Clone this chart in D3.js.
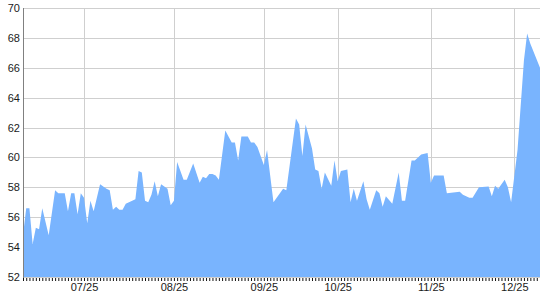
<!DOCTYPE html>
<html>
<head>
<meta charset="utf-8">
<script src="https://cdn.jsdelivr.net/npm/d3@7"></script>
<style>
    body { margin: 0; background: #fff; }
    #chart text { font-family: "Liberation Sans", Arial, sans-serif; font-size: 11px; fill: #1a1a1a; }
</style>
</head>
<body>
<div id="chart"></div>
<script>
// data (index = trading-day position on the axis)
const dayIndex = [0, 1, 2, 3, 4, 5, 6, 8, 10, 11, 13, 14, 15, 16, 17, 18, 19, 20, 21, 22, 24, 26, 27, 28, 29, 30, 31, 32,
    34, 35, 36, 37, 38, 39, 40, 41, 42, 43, 45, 46, 47, 48, 50, 51, 53, 55, 56, 57, 58, 59, 60, 61, 63, 65, 66, 67, 68,
    70, 71, 72, 73, 75, 76, 78, 81, 82, 85, 86, 87, 88, 90, 91, 92, 93, 94, 96, 97, 98, 99, 101, 102, 103, 104, 106,
    107, 108, 110, 111, 112, 113, 115, 117, 118, 119, 121, 122, 124, 126, 127, 128, 131, 132, 136, 137, 139, 140, 142,
    145, 146, 147, 148, 150, 151, 152, 154, 156, 157, 158, 161];
const price = [54.8, 56.6, 56.6, 54.2, 55.3, 55.2, 56.6, 54.8, 57.8, 57.6, 57.6, 56.4, 57.6, 57.6, 56.2, 57.6, 57.3,
    55.6, 57.1, 56.4, 58.2, 57.9, 57.8, 56.5, 56.7, 56.5, 56.5, 56.9,
    57.1, 57.2, 59.1, 59.0, 57.1, 57.0, 57.5, 58.4, 57.4, 58.2, 57.9, 56.8, 57.1, 59.7, 58.5, 58.5, 59.6, 58.3, 58.7,
    58.6, 58.9, 58.9, 58.8, 58.5, 61.8, 61.0, 61.0, 59.8, 61.4,
    61.4, 61.0, 61.0, 60.7, 59.5, 60.5, 57.0, 57.9, 57.8, 62.6, 62.2, 60.1, 62.2, 60.6, 59.2, 59.1, 57.9, 59.0, 58.1,
    59.8, 58.4, 59.1, 59.2, 57.0, 57.9, 57.1, 58.4,
    57.2, 56.5, 57.8, 57.6, 56.7, 57.4, 56.9, 59.0, 57.1, 57.1, 59.8, 59.8, 60.2, 60.3, 58.3, 58.8, 58.8, 57.6, 57.7,
    57.5, 57.3, 57.3, 58.0,
    58.05, 57.4, 58.1, 57.9, 58.5, 58.0, 57.0, 60.5, 66.5, 68.3, 67.6, 66.0];
const lastIndex = 161;
const monthIndex = [19, 47, 75, 98, 127, 153];
const monthLabels = ["07/25", "08/25", "09/25", "10/25", "11/25", "12/25"];
const yTicks = [52, 54, 56, 58, 60, 62, 64, 66, 68, 70];

const width = 540, height = 300;
const plotLeft = 23, plotRight = 540, plotTop = 8, plotBottom = 277;

const svg = d3.select("#chart").append("svg")
    .attr("width", width)
    .attr("height", height);

const x = d3.scaleLinear().domain([0, lastIndex]).range([plotLeft, plotRight]);
const y = d3.scaleLinear().domain([52, 70]).range([plotBottom, plotTop]);

// grid
svg.append("g").selectAll("line")
    .data(yTicks)
    .enter().append("line")
    .attr("x1", plotLeft).attr("x2", plotRight)
    .attr("y1", d => Math.round(y(d)) + 0.5).attr("y2", d => Math.round(y(d)) + 0.5)
    .style("stroke", "#cfcfcf");

svg.append("g").selectAll("line")
    .data(monthIndex)
    .enter().append("line")
    .attr("x1", d => Math.round(x(d)) + 0.5).attr("x2", d => Math.round(x(d)) + 0.5)
    .attr("y1", plotTop).attr("y2", plotBottom)
    .style("stroke", "#cfcfcf");

// area
const series = dayIndex.map((d, i) => ({ i: d, v: price[i] }));
svg.append("path")
    .datum(series)
    .attr("d", d3.area()
        .x(d => x(d.i))
        .y0(plotBottom)
        .y1(d => y(d.v)))
    .style("fill", "#79b4fe");

// left axis
const yAxis = svg.append("g")
    .attr("transform", `translate(${plotLeft},0)`)
    .call(d3.axisLeft(y).tickValues(yTicks).tickSize(0).tickPadding(3));
yAxis.select(".domain").remove();
svg.append("line")
    .attr("x1", plotLeft + 0.5).attr("x2", plotLeft + 0.5)
    .attr("y1", plotTop).attr("y2", plotBottom + 1)
    .style("stroke", "#808080");

// daily ticks
const tickAxis = svg.append("g")
    .attr("transform", `translate(0,${plotBottom + 1})`)
    .call(d3.axisBottom(x).tickValues(d3.range(0, lastIndex + 1)).tickSize(3).tickFormat(""));
tickAxis.select(".domain").remove();
tickAxis.selectAll("line").style("stroke", "#111");

// month labels
const monthAxis = svg.append("g")
    .attr("transform", `translate(0,${plotBottom + 1})`)
    .call(d3.axisBottom(x).tickValues(monthIndex).tickSize(0).tickPadding(5)
        .tickFormat((d, i) => monthLabels[i]));
monthAxis.select(".domain").remove();
</script>
</body>
</html>
